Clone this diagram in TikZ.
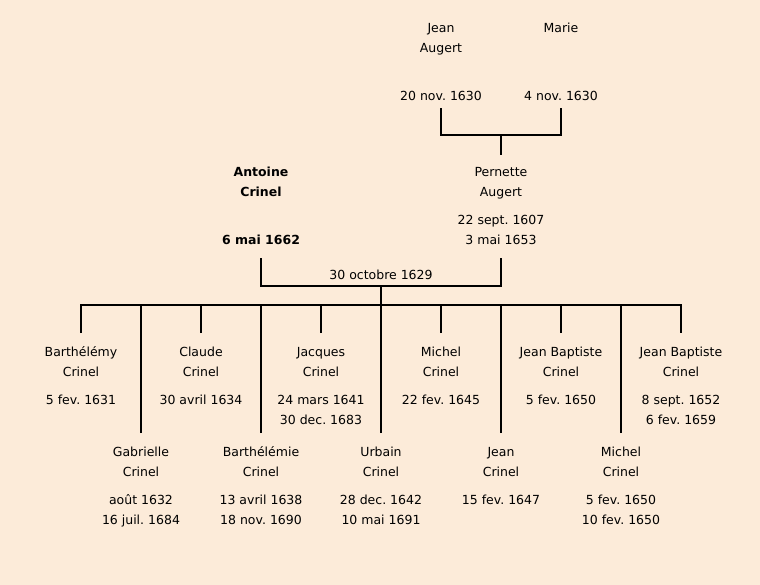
\documentclass[tikz,border=0pt]{standalone}
\usepackage{fontspec}
\setmainfont{DejaVu Sans}
\usepackage{xcolor}
\usetikzlibrary{positioning}
\definecolor{paper}{RGB}{252,235,217}
\newcommand\tfont{\fontsize{12.5}{20}\selectfont\frenchspacing}

\begin{document}
\begin{tikzpicture}[x=1pt,y=-1pt,node distance=5pt,every node/.style={inner sep=0pt, outer sep=0pt, font=\tfont}]
\tikzset{sline/.style={line width=2pt},
  person/.style={align=center,anchor=north,outer ysep=9.5pt},
  parent/.style={person,outer ysep=7.5pt}}

  \fill[paper] (0,0) rectangle (760,585);
  \useasboundingbox (0,0) rectangle (760,585);

  % grandparents
  \node(P0) [parent] at (441,11)  { \strut Jean\\Augert\\[28pt]20 nov. 1630 };
  \node(P1) [parent] at (561,11)  { \strut Marie\\[48pt]4 nov. 1630 };
  \coordinate (JM) at (501,135);

  % parents
  \node(P2) [parent,font=\tfont\bfseries] at (261,155) { \strut Antoine\\Crinel\\[28pt]6 mai 1662 };
  \node(P3) [parent] at (501,155) { \strut Pernette\\Augert\\[8pt]22 sept. 1607\\3 mai 1653 };
  \coordinate (Wed) at (381,286);
  \node(WD) [above=6.5pt of Wed] { 30 octobre 1629 };
  \coordinate (Bar) at (381,305);

  % children
  \node(C0)  [person] at (81,333)  { \strut Barthélémy\\Crinel\\[8pt]5 fev. 1631 };
  \node(C1)  [person] at (141,433) { \strut Gabrielle\\Crinel\\[8pt]août 1632\\16 juil. 1684 };
  \node(C2)  [person] at (201,333) { \strut Claude\\Crinel\\[8pt]30 avril 1634 };
  \node(C3)  [person] at (261,433) { \strut Barthélémie\\Crinel\\[8pt]13 avril 1638\\18 nov. 1690 };
  \node(C4)  [person] at (321,333) { \strut Jacques\\Crinel\\[8pt]24 mars 1641\\30 dec. 1683 };
  \node(C5)  [person] at (381,433) { \strut Urbain\\Crinel\\[8pt]28 dec. 1642\\10 mai 1691 };
  \node(C6)  [person] at (441,333) { \strut Michel\\Crinel\\[8pt]22 fev. 1645 };
  \node(C7)  [person] at (501,433) { \strut Jean\\Crinel\\[8pt]15 fev. 1647 };
  \node(C8)  [person] at (561,333) { \strut Jean Baptiste\\Crinel\\[8pt]5 fev. 1650 };
  \node(C9)  [person] at (621,433) { \strut Michel\\Crinel\\[8pt]5 fev. 1650\\10 fev. 1650 };
  \node(C10) [person] at (681,333) { \strut Jean Baptiste\\Crinel\\[8pt]8 sept. 1652\\6 fev. 1659 };

  \draw[sline] (P0.south) |- (JM) -| (P1.south);
  \draw[sline] (JM) -- (P3.north);
  \draw[sline,shorten <=6pt,shorten >=6pt] (P2.south) |- (Wed) -| (P3.south);
  \draw[sline] (Wed) -- (Bar);
  \draw[sline] (C0.north) |- (Bar) -| (C10.north);
  \draw[sline] (C1.north) -- (C1.north |- Bar);
  \draw[sline] (C2.north) -- (C2.north |- Bar);
  \draw[sline] (C3.north) -- (C3.north |- Bar);
  \draw[sline] (C4.north) -- (C4.north |- Bar);
  \draw[sline] (C5.north) -- (C5.north |- Bar);
  \draw[sline] (C6.north) -- (C6.north |- Bar);
  \draw[sline] (C7.north) -- (C7.north |- Bar);
  \draw[sline] (C8.north) -- (C8.north |- Bar);
  \draw[sline] (C9.north) -- (C9.north |- Bar);
\end{tikzpicture}
\end{document}
